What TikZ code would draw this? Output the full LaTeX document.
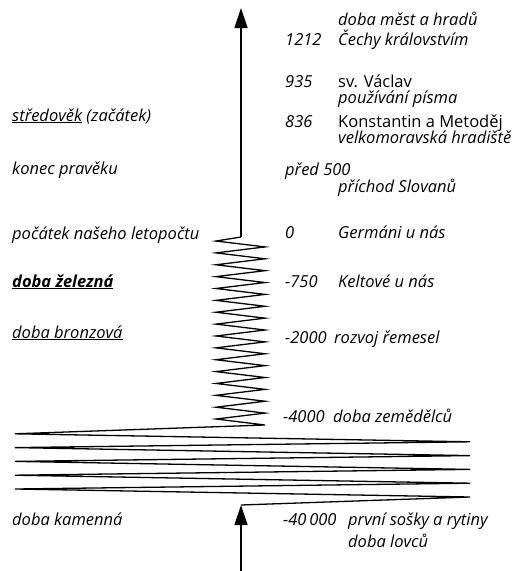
\documentclass[tikz,border=0pt]{standalone}
\usepackage{fontspec}
\setmainfont{Open Sans}
\usetikzlibrary{arrows.meta}

\begin{document}
\begin{tikzpicture}[
  x=1pt, y=-1pt,
  font=\fontsize{16.5}{19}\selectfont\itshape,
  lbl/.style={anchor=base west, inner sep=0pt},
  up/.style={draw, line width=1.4pt, -{Triangle[length=20pt, width=13pt]}},
  wave/.style={draw, line width=1.3pt}
]
\useasboundingbox (0,0) rectangle (516,571);

% left column
\node[lbl] (stredovek) at (12,121) {\underline{středověk} (začátek)};
\node[lbl] (konec)     at (12,174) {konec pravěku};
\node[lbl] (pocatek)   at (12,239) {počátek našeho letopočtu};
\node[lbl] (zelezna)   at (12,287) {\bfseries\underline{doba železná}};
\node[lbl] (bronz)     at (12,338) {\underline{doba bronzová}};
\node[lbl] (kamen)     at (12,525) {doba kamenná};

% right column
\node[lbl] (mesta)   at (338,25)  {doba měst a hradů};
\node[lbl] (y1212)   at (285,45)  {1212};
\node[lbl] (cechy)   at (338,45)  {Čechy královstvím};
\node[lbl] (y935)    at (285,87)  {935};
\node[lbl] (vaclav)  at (338,87)  {\upshape sv. Václav};
\node[lbl] (pismo)   at (338,103) {používání písma};
\node[lbl] (y836)    at (285,127) {836};
\node[lbl] (metodej) at (338,127) {\upshape Konstantin a Metoděj};
\node[lbl] (velko)   at (338,143) {velkomoravská hradiště};
\node[lbl] (y500)    at (285,175) {před 500};
\node[lbl] (slovane) at (338,192) {příchod Slovanů};
\node[lbl] (y0)      at (285,238) {0};
\node[lbl] (german)  at (338,238) {Germáni u nás};
\node[lbl] (y750)    at (285,287) {-750};
\node[lbl] (kelt)    at (338,287) {Keltové u nás};
\node[lbl] (y2000)   at (285,343) {-2000};
\node[lbl] (remesla) at (334,343) {rozvoj řemesel};
\node[lbl] (y4000)   at (283,422) {-4000};
\node[lbl] (zemed)   at (333,422) {doba zemědělců};
\node[lbl] (y40000)  at (283,525) {-40\,000};
\node[lbl] (sosky)   at (348,525) {první sošky a rytiny};
\node[lbl] (lovci)   at (348,547) {doba lovců};

% time line
\coordinate (base)  at (241,571);
\coordinate (start) at (241,505);
\coordinate (knee)  at (241,237);
\coordinate (top)   at (241,8);

\draw[up] (base) -- (start);
\draw[wave] (start)
  \foreach \k in {0,...,4} { -- (470,{497-13.8*\k}) -- (15,{489-13.8*\k}) }
  -- (265,425) -- (216,419)
  \foreach \k in {0,...,14} { -- (265,{413.1-11.87*\k}) -- (216,{407.2-11.87*\k}) }
  -- (knee);
\draw[up] (knee) -- (top);
\end{tikzpicture}
\end{document}
